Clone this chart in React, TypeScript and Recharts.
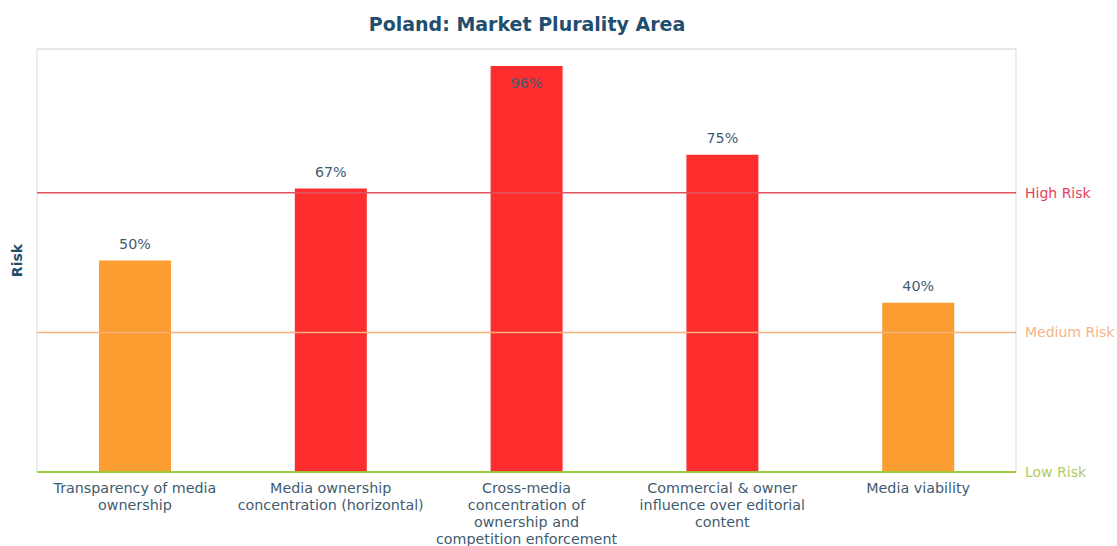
import {
  BarChart,
  Bar,
  XAxis,
  YAxis,
  CartesianGrid,
  ReferenceLine,
  ReferenceArea,
  LabelList,
  Cell,
} from 'recharts'

const CATEGORIES = [
  'Transparency of media\nownership',
  'Media ownership\nconcentration (horizontal)',
  'Cross-media\nconcentration of\nownership and\ncompetition enforcement',
  'Commercial & owner\ninfluence over editorial\ncontent',
  'Media viability',
]
const RISK_VALUES = [50, 67, 96, 75, 40]
const Y_TICKS = [0, 20, 40, 60, 80, 100]
const THRESHOLD_LABELS = ['High Risk', 'Medium Risk', 'Low Risk']
const THRESHOLD_VALUES = [66, 33, 0]

const FONT = '"DejaVu Sans", Verdana, sans-serif'
const TITLE_COLOR = '#1f4e6e'
const TEXT_COLOR = '#3f5b70'
const RED = '#fe2e2e'
const ORANGE = '#fb9d30'
const LINE_COLORS = ['#e2505c', '#f6b07c', '#9acd32']
const LABEL_COLORS = ['#e8405a', '#f5b58a', '#b3c860']
const FS = 14.3

const data = CATEGORIES.map((name, i) => ({ name, value: RISK_VALUES[i] }))

const CategoryTick = (props: any) => {
  const { x, y, payload } = props
  const lines = String(payload.value).split('\n')
  return (
    <text x={x} y={y + 3} textAnchor="middle" fill={TEXT_COLOR} fontSize={FS} fontFamily={FONT}>
      {lines.map((l, i) => (
        <tspan key={i} x={x} dy={i === 0 ? '0.71em' : 16.8}>
          {l}
        </tspan>
      ))}
    </text>
  )
}

const ValueLabel = (props: any) => {
  const { x, y, width, value } = props
  const inside = value > 90
  return (
    <text
      x={x + width / 2}
      y={inside ? y + 17 : y - 17}
      textAnchor="middle"
      dominantBaseline="central"
      fill={TEXT_COLOR}
      fontSize={FS}
      fontFamily={FONT}
    >
      {value}%
    </text>
  )
}

export default function App() {
  return (
    <div
      style={{
        position: 'absolute',
        top: 0,
        left: 0,
        width: 1117,
        height: 546,
        overflow: 'hidden',
        background: '#fff',
        fontFamily: FONT,
      }}
    >
      <div
        style={{
          position: 'absolute',
          top: 13,
          left: 0,
          width: 1054,
          textAlign: 'center',
          fontSize: 19,
          fontWeight: 'bold',
          color: TITLE_COLOR,
        }}
      >
        Poland: Market Plurality Area
      </div>
      <BarChart
        width={1117}
        height={570}
        data={data}
        margin={{ top: 49, right: 101, left: 0, bottom: 24 }}
        barCategoryGap={0}
      >
        <CartesianGrid vertical={false} stroke="#ececec" />
        <ReferenceArea y1={0} y2={100} stroke="#d3dbdc" fill="none" fillOpacity={0} ifOverflow="extendDomain" />
        <XAxis
          dataKey="name"
          interval={0}
          axisLine={false}
          tickLine={false}
          height={74}
          tick={<CategoryTick />}
        />
        <YAxis
          domain={[0, 100]}
          ticks={Y_TICKS}
          tick={false}
          axisLine={false}
          tickLine={false}
          width={37}
          label={{
            value: 'Risk',
            angle: -90,
            position: 'center',
            fill: TITLE_COLOR,
            fontSize: 14,
            fontWeight: 'bold',
            fontFamily: FONT,
            dx: -1,
          }}
        />
        {THRESHOLD_VALUES.map((t, i) => (
          <ReferenceLine
            key={THRESHOLD_LABELS[i]}
            y={t}
            stroke={LINE_COLORS[i]}
            strokeWidth={1.5}
            label={{
              value: THRESHOLD_LABELS[i],
              position: 'right',
              offset: 9,
              fill: LABEL_COLORS[i],
              fontSize: 14,
              fontFamily: FONT,
            }}
          />
        ))}
        <Bar dataKey="value" barSize={72} isAnimationActive={false}>
          {data.map((d) => (
            <Cell key={d.name} fill={d.value > THRESHOLD_VALUES[0] ? RED : ORANGE} />
          ))}
          <LabelList dataKey="value" content={<ValueLabel />} />
        </Bar>
        <ReferenceLine y={0} stroke={LINE_COLORS[2]} strokeWidth={1.5} />
      </BarChart>
    </div>
  )
}
